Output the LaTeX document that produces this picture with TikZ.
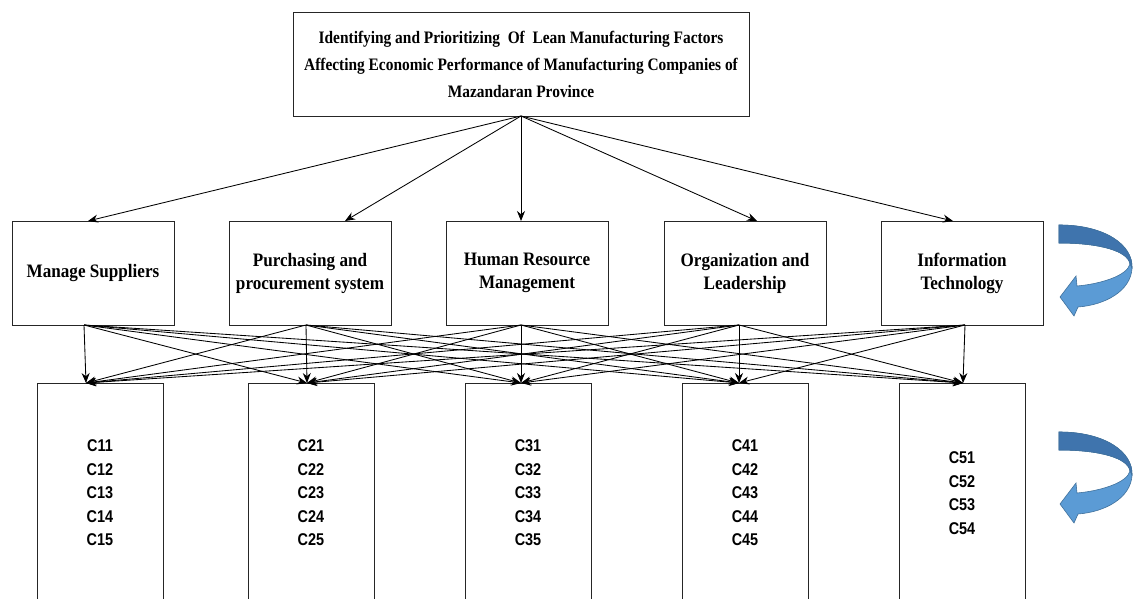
\documentclass[tikz,border=0pt]{standalone}
\usepackage{fontspec}
\setmainfont{Liberation Serif}
\newfontfamily\serifc{Liberation Serif}[FakeStretch=0.88]
\newfontfamily\serifm{Liberation Serif}[FakeStretch=0.9]
\newfontfamily\sansc{Liberation Sans}[FakeStretch=0.85]
\usetikzlibrary{arrows.meta}
\definecolor{bluedark}{HTML}{3F74AD}
\definecolor{bluelight}{HTML}{5B9BD5}
\definecolor{blueline}{HTML}{41719C}
\begin{document}
\begin{tikzpicture}[x=1pt,y=-1pt,
  box/.style={draw=black!85,line width=0.9pt,inner sep=0pt,align=center},
  topbox/.style={box,minimum width=456pt,minimum height=104pt,font=\serifc\bfseries\fontsize{17.5}{27}\selectfont},
  midbox/.style={box,minimum width=162pt,minimum height=104pt,font=\serifm\bfseries\fontsize{19}{23}\selectfont},
  critbox/.style={box,minimum width=126pt,minimum height=220pt,font=\sansc\bfseries\fontsize{17}{23.5}\selectfont},
  arr/.style={-{Stealth[length=10pt,width=8pt]},line width=0.85pt,black},
  curl/.style={fill=bluelight,draw=blueline,line width=0.6pt}]
\useasboundingbox (0,0) rectangle (1133,599);

\node[topbox] (top) at (521,64) {Identifying and Prioritizing \ Of \ Lean Manufacturing Factors\\Affecting Economic Performance of Manufacturing Companies of\\Mazandaran Province};

\node[midbox] (m1) at (93,273) {Manage Suppliers};
\node[midbox] (m2) at (310,273) {Purchasing and\\procurement system};
\node[midbox] (m3) at (527,273) {Human Resource\\Management};
\node[midbox] (m4) at (745,273) {Organization and\\Leadership};
\node[midbox] (m5) at (962,273) {Information\\Technology};

\node[critbox] (c1) at (100,493) {C11\\C12\\C13\\C14\\C15};
\node[critbox] (c2) at (311,493) {C21\\C22\\C23\\C24\\C25};
\node[critbox] (c3) at (528,493) {C31\\C32\\C33\\C34\\C35};
\node[critbox] (c4) at (745,493) {C41\\C42\\C43\\C44\\C45};
\node[critbox] (c5) at (962,493) {C51\\C52\\C53\\C54};

% entry points on the top of the middle boxes
\coordinate (t) at (521,116);
\coordinate (i1) at (88,221);
\coordinate (i2) at (345,221);
\coordinate (i3) at (521,221);
\coordinate (i4) at (757,221);
\coordinate (i5) at (953,221);
\foreach \k in {1,...,5} \draw[arr] (t) -- (i\k);

% exit points under middle boxes, entry points on criteria boxes
\coordinate (o1) at (84,325);   \coordinate (e1) at (86,383);
\coordinate (o2) at (306,325);  \coordinate (e2) at (307,383);
\coordinate (o3) at (521,325);  \coordinate (e3) at (521,383);
\coordinate (o4) at (739,325);  \coordinate (e4) at (739,383);
\coordinate (o5) at (965,325);  \coordinate (e5) at (963,383);
\foreach \a in {1,...,5}
  \foreach \b in {1,...,5}
    \draw[arr] (o\a) -- (e\b);

% curved blue arrows
\foreach \dy in {0,207}{
  \begin{scope}[yshift=-\dy pt]
  \path[curl] (1059,225) .. controls (1105,225) and (1133,245) .. (1132,268)
    .. controls (1131,291) and (1105,305) .. (1078,307) -- (1074,316) -- (1060,297)
    -- (1076,276) -- (1077,286) .. controls (1100,284) and (1127,276) .. (1130,264)
    .. controls (1128,251) and (1100,243) .. (1059,243) -- cycle;
  \path[curl,fill=bluedark] (1059,225) .. controls (1105,225) and (1133,245) .. (1132,268)
    -- (1130,264) .. controls (1128,251) and (1100,243) .. (1059,243) -- cycle;
  \end{scope}
}
\end{tikzpicture}
\end{document}
